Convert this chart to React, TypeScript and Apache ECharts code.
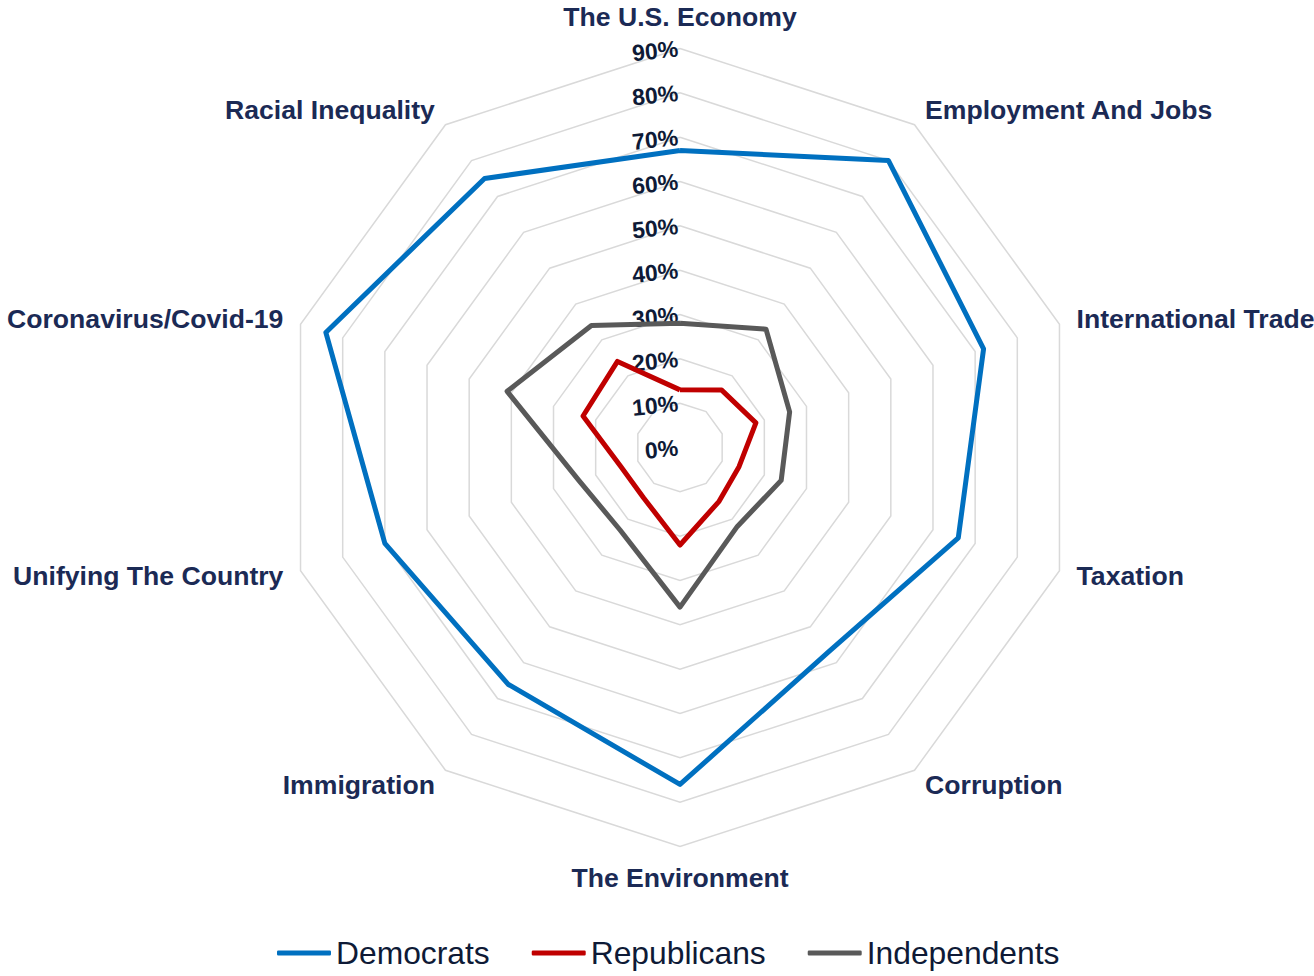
import React, { useEffect, useRef } from "react";
import * as echarts from "echarts";

// Indicators in clockwise order starting from the top
const categories = [
  "The U.S. Economy",
  "Employment And Jobs",
  "International Trade",
  "Taxation",
  "Corruption",
  "The Environment",
  "Immigration",
  "Unifying The Country",
  "Coronavirus/Covid-19",
  "Racial Inequality",
];

const democrats = [67, 80, 72, 66, 57, 76, 66, 70, 84, 75];
const republicans = [13, 16, 18, 14, 15, 22, 14, 14, 23, 24];
const independents = [28, 33, 26, 24, 22, 36, 23, 24, 41, 34];

const seriesNames = ["Democrats", "Republicans", "Independents"];
const seriesColors = ["#0070C0", "#C00000", "#595959"];

const axisMax = 90;
const splitCount = 9;

// ECharts places indicators counter-clockwise; reorder to get clockwise layout
const order = categories.map((_, i) => (i === 0 ? 0 : categories.length - i));
const reorder = (arr: any[]) => order.map((i) => arr[i]);

export default function App() {
  const ref = useRef<HTMLDivElement>(null);

  useEffect(() => {
    document.body.style.margin = "0";
    if (!ref.current) return;
    const chart = echarts.init(ref.current, null, { renderer: "svg" });
    const indicator = reorder(categories).map((name, i) => ({
      name,
      min: 0,
      max: axisMax,
      axisLabel: { show: i === 0 },
    }));
    const allValues = [democrats, republicans, independents];
    chart.setOption({
      animation: false,
      legend: {
        data: seriesNames,
        top: 932,
        left: 272,
        itemWidth: 54,
        itemHeight: 5,
        itemGap: 42,
        icon: "roundRect",
        textStyle: {
          fontFamily: "Liberation Sans, Arial, sans-serif",
          fontSize: 31.8,
          color: "#0E1A36",
        },
      },
      radar: {
        center: [680, 447.5],
        radius: 399,
        startAngle: 90,
        splitNumber: splitCount,
        shape: "polygon",
        nameGap: 18,
        indicator,
        axisName: {
          color: "#1B2A55",
          fontFamily: "Liberation Sans, Arial, sans-serif",
          fontWeight: "bold",
          fontSize: 26.6,
        },
        axisLine: { show: false },
        axisTick: { show: false },
        splitArea: { show: false },
        splitLine: { lineStyle: { color: "#D9D9D9", width: 1.5 } },
        axisLabel: {
          show: false,
          formatter: (v: number) => `${v}%`,
          color: "#0E1A36",
          fontFamily: "Liberation Sans, Arial, sans-serif",
          fontWeight: "bold",
          fontSize: 23,
          margin: 2,
          rotate: 6,
        },
      },
      series: [
        {
          type: "radar",
          symbol: "none",
          data: seriesNames.map((name, k) => ({
            name,
            value: reorder(allValues[k]),
            lineStyle: { color: seriesColors[k], width: 5 },
            itemStyle: { color: seriesColors[k] },
          })),
        },
      ],
    });
    return () => chart.dispose();
  }, []);

  return <div ref={ref} style={{ width: 1314, height: 976 }} />;
}
